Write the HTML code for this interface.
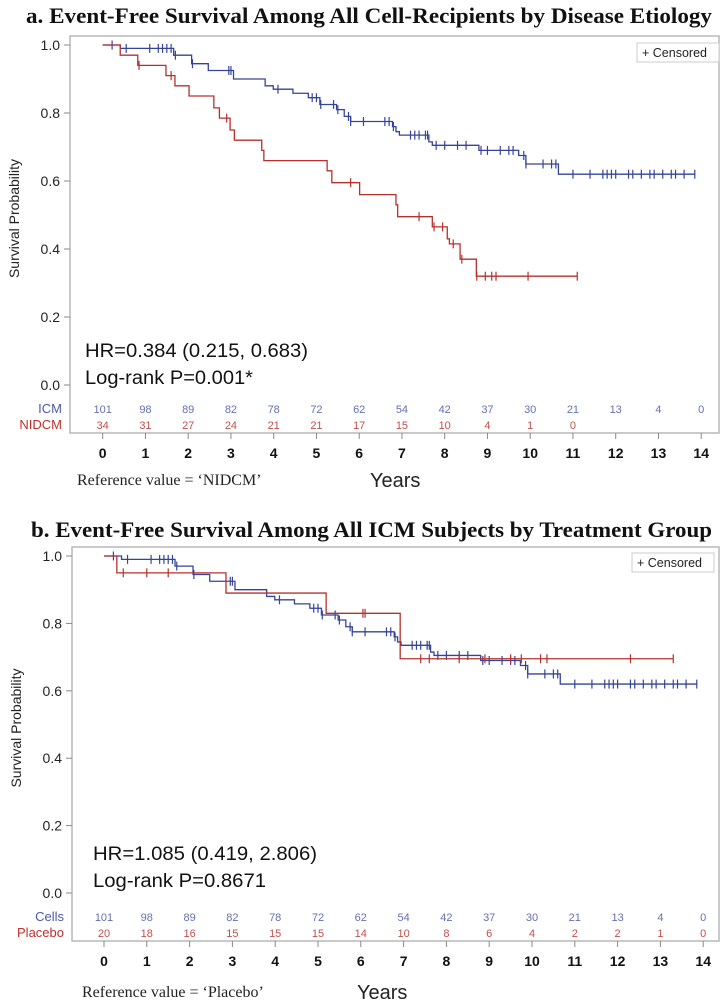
<!DOCTYPE html>
<html><head><meta charset="utf-8">
<style>
html,body{margin:0;padding:0;background:#fff;}
svg{display:block;}
</style></head>
<body>
<svg id="chart" width="727" height="1008" viewBox="0 0 727 1008" xmlns="http://www.w3.org/2000/svg"></svg>
<script>
// ---- data ----
const xTicks = [0,1,2,3,4,5,6,7,8,9,10,11,12,13,14];
const yTicks = [0.0,0.2,0.4,0.6,0.8,1.0];
const yTickLabels = ["0.0","0.2","0.4","0.6","0.8","1.0"];
// ICM / Cells curve: step times and survival after step
const icmTimes = [0,0.41,1.66,2.08,2.47,3.06,3.8,3.99,4.45,4.81,5.08,5.47,5.65,5.8,6.78,6.86,6.94,7.63,7.71,8.8,9.73,9.9,10.66];
const icmSurv  = [1.0,0.99,0.97,0.945,0.925,0.90,0.88,0.87,0.858,0.845,0.825,0.81,0.79,0.775,0.76,0.745,0.735,0.715,0.705,0.69,0.675,0.65,0.62];
const icmEnd = 13.85;
const icmCensor = [0.22,0.55,1.1,1.3,1.4,1.5,1.6,1.7,2.1,2.95,3.0,4.1,4.9,5.0,5.1,5.4,5.5,5.75,5.8,6.1,6.6,6.7,6.8,7.2,7.3,7.4,7.55,7.6,7.8,8.0,8.3,8.5,8.85,9.0,9.3,9.5,9.6,9.85,9.9,10.3,10.5,10.6,11.0,11.4,11.7,11.8,11.9,12.0,12.3,12.4,12.6,12.8,12.9,13.1,13.3,13.4,13.6,13.85];
// NIDCM curve
const nidTimes = [0,0.41,0.82,1.48,1.69,2.02,2.6,2.73,2.98,3.08,3.72,3.77,5.25,5.36,6.01,6.86,6.9,7.71,8.06,8.11,8.36,8.74];
const nidSurv  = [1.0,0.97,0.94,0.91,0.88,0.85,0.815,0.785,0.75,0.72,0.69,0.66,0.63,0.595,0.56,0.53,0.495,0.465,0.43,0.415,0.37,0.32];
const nidEnd = 11.1;
const nidCensor = [0.85,1.6,2.9,5.8,7.4,7.75,7.95,8.2,8.4,8.75,8.95,9.1,9.2,9.95,11.1];
// Placebo curve
const plaTimes = [0,0.3,2.85,5.19,6.92];
const plaSurv  = [1.0,0.95,0.89,0.83,0.695];
const plaEnd = 13.3;
const plaCensor = [0.45,1.0,1.5,6.05,6.1,7.4,7.6,8.3,8.9,9.5,9.75,10.2,10.35,12.3,13.3];
// at-risk tables
const riskICM = [101,98,89,82,78,72,62,54,42,37,30,21,13,4,0];
const riskNID = [34,31,27,24,21,21,17,15,10,4,1,0];
const riskCells = [101,98,89,82,78,72,62,54,42,37,30,21,13,4,0];
const riskPla = [20,18,16,15,15,15,14,10,8,6,4,2,2,1,0];

const NS = "http://www.w3.org/2000/svg";
const svg = document.getElementById("chart");
const BLUE = "#34449a", RED = "#b8302c", LBLUE = "#6470b0", LRED = "#c0504d";
function el(tag, attrs, parent, text){
  const e = document.createElementNS(NS, tag);
  for (const k in attrs) e.setAttribute(k, attrs[k]);
  if (text !== undefined) e.textContent = text;
  (parent || svg).appendChild(e);
  return e;
}
function survAt(times, surv, t){ let s = surv[0]; for (let i=0;i<times.length;i++){ if (times[i] <= t) s = surv[i]; } return s; }

function panel(p){
  const g = el("g", {});
  
  
  const X = t => p.x0 + t * p.dx;
  const Y = s => p.y0 - s * p.dy;
  const title = el("text", {x: p.titleX, y: p.titleY, "font-family": "Liberation Serif, serif", "font-weight": "bold", "font-size": 22, textLength: p.titleW, lengthAdjust: "spacingAndGlyphs", fill: "#111"}, g, p.title);
  
  
  const frame = el("rect", {x: p.fx, y: p.fy, width: p.fw, height: p.fh, fill: "none", stroke: "#b8b8b8", "stroke-width": 1.5}, g);
  
  
  yTicks.forEach((v,i) => {
    const y = Y(v);
    const tk = el("line", {x1: p.fx-6, x2: p.fx, y1: y, y2: y, stroke: "#888", "stroke-width": 1}, g);
    
    
    const lb = el("text", {x: p.fx-10, y: y+5, "text-anchor": "end", "font-family": "Liberation Sans, sans-serif", "font-size": 14, fill: "#222"}, g, yTickLabels[i]);
    
    
  });
  const yt = el("text", {x: 0, y: 0, transform: `translate(${p.fx-51},${(p.fy+p.y0)/2+8}) rotate(-90)`, "text-anchor": "middle", "font-family": "Liberation Sans, sans-serif", "font-size": 14, fill: "#222"}, g, "Survival Probability");
  
  
  xTicks.forEach(t => {
    const x = X(t);
    const tk = el("line", {x1: x, x2: x, y1: p.fy+p.fh, y2: p.fy+p.fh+6, stroke: "#888", "stroke-width": 1}, g);
    
    
    const lb = el("text", {x: x, y: p.fy+p.fh+25, "text-anchor": "middle", "font-family": "Liberation Sans, sans-serif", "font-weight": "bold", "font-size": 14, fill: "#111"}, g, String(t));
    
    
  });
  const ref = el("text", {x: p.refX, y: p.refY, "font-family": "Liberation Serif, serif", "font-size": 16, fill: "#222"}, g, p.refText);
  
  
  const yrs = el("text", {x: p.yrsX, y: p.refY+2, "font-family": "Liberation Sans, sans-serif", "font-size": 20, fill: "#222"}, g, "Years");
  
  
  const lg = el("g", {}, g);
  
  
  el("rect", {x: p.lgX, y: p.lgY, width: 82, height: 19, fill: "#fff", stroke: "#ccc"}, lg);
  el("text", {x: p.lgX+5, y: p.lgY+14, "font-family": "Liberation Sans, sans-serif", "font-size": 12.5, fill: "#222"}, lg, "+ Censored");
  const s1 = el("text", {x: p.statX, y: p.statY, "font-family": "Liberation Sans, sans-serif", "font-size": 19, textLength: p.stat1W, lengthAdjust: "spacingAndGlyphs", fill: "#111"}, g, p.stat1);
  
  
  const s2 = el("text", {x: p.statX, y: p.statY+27, "font-family": "Liberation Sans, sans-serif", "font-size": 19, textLength: p.stat2W, lengthAdjust: "spacingAndGlyphs", fill: "#111"}, g, p.stat2);
  
  
  p.rows.forEach((r, ri) => {
    const ry = p.riskY + ri*16;
    const lab = el("text", {x: p.fx-8, y: ry, "text-anchor": "end", "font-family": "Liberation Sans, sans-serif", "font-size": 13, fill: r.labColor}, g, r.label);
    
    
    r.values.forEach((v, i) => {
      const t = el("text", {x: X(xTicks[i]), y: ry, "text-anchor": "middle", "font-family": "Liberation Sans, sans-serif", "font-size": 11, fill: r.color}, g, String(v));
      
      
    });
  });
  p.curves.forEach(c => {
    let d = `M${X(c.times[0])},${Y(c.surv[0])}`;
    for (let i=1;i<c.times.length;i++){ d += ` H${X(c.times[i])} V${Y(c.surv[i])}`; }
    d += ` H${X(c.end)}`;
    const path = el("path", {d: d, fill: "none", stroke: c.color, "stroke-width": 1.3}, g);
    
    
    c.censor.forEach(t => {
      const x = X(t), y = Y(survAt(c.times, c.surv, t));
      const m = el("line", {x1: x, x2: x, y1: y-4.5, y2: y+4.5, stroke: c.color, "stroke-width": 1.2}, g);
      
      
    });
  });
}

panel({
  name: "panel-a", title: "a. Event-Free Survival Among All Cell-Recipients by Disease Etiology",
  titleX: 26, titleY: 23, titleW: 686,
  fx: 70, fy: 36, fw: 649, fh: 397,
  x0: 102.7, dx: 42.75, y0: 385, dy: 340,
  refX: 77, refY: 485, refText: "Reference value  = \u2018NIDCM\u2019", yrsX: 370,
  lgX: 637, lgY: 43,
  statX: 85, statY: 357, stat1: "HR=0.384 (0.215, 0.683)", stat1W: 223, stat2: "Log-rank P=0.001*", stat2W: 168,
  riskY: 413,
  rows: [{label: "ICM", values: riskICM, color: LBLUE, labColor: "#4a5aa8"}, {label: "NIDCM", values: riskNID, color: LRED, labColor: "#c0302c"}],
  curves: [
    {name: "icm", times: icmTimes, surv: icmSurv, end: icmEnd, censor: icmCensor, color: BLUE},
    {name: "nidcm", times: nidTimes, surv: nidSurv, end: nidEnd, censor: nidCensor, color: RED}
  ]
});
panel({
  name: "panel-b", title: "b. Event-Free Survival Among All ICM Subjects by Treatment Group",
  titleX: 31, titleY: 537, titleW: 681,
  fx: 72, fy: 547, fw: 647, fh: 394,
  x0: 104, dx: 42.8, y0: 893, dy: 337,
  refX: 82, refY: 997, refText: "Reference value = \u2018Placebo\u2019", yrsX: 357,
  lgX: 632, lgY: 553,
  statX: 93, statY: 860, stat1: "HR=1.085 (0.419, 2.806)", stat1W: 224, stat2: "Log-rank P=0.8671", stat2W: 173,
  riskY: 921,
  rows: [{label: "Cells", values: riskCells, color: LBLUE, labColor: "#4a5aa8"}, {label: "Placebo", values: riskPla, color: LRED, labColor: "#c0302c"}],
  curves: [
    {name: "cells", times: icmTimes, surv: icmSurv, end: icmEnd, censor: icmCensor, color: BLUE},
    {name: "placebo", times: plaTimes, surv: plaSurv, end: plaEnd, censor: plaCensor, color: RED}
  ]
});
</script>
</body></html>
